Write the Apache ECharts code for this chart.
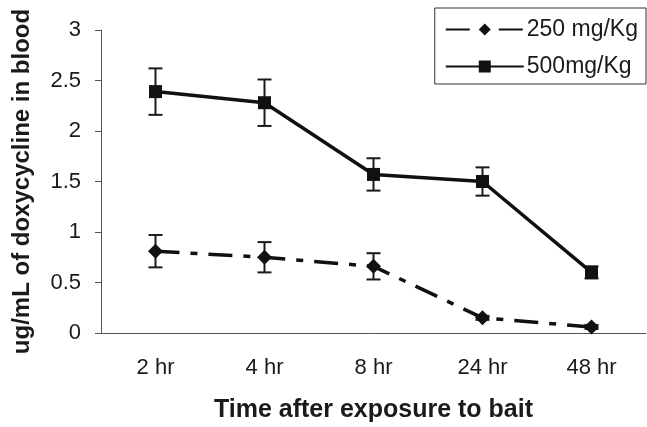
<!DOCTYPE html>
<html>
<head>
<meta charset="utf-8">
<script src="https://cdn.jsdelivr.net/npm/echarts@6/dist/echarts.min.js"></script>
<style>
  html, body { margin: 0; padding: 0; background: #fff; }
  #chart { width: 647px; height: 427px; }
</style>
</head>
<body>
<div id="chart"></div>
<script>
// time points and measured means / error bars
var categories = ['2 hr', '4 hr', '8 hr', '24 hr', '48 hr'];
var dose250 = [0.81, 0.75, 0.66, 0.15, 0.06];
var err250 = [0.16, 0.15, 0.13, 0.02, 0.02];
var dose500 = [2.39, 2.28, 1.57, 1.50, 0.60];
var err500 = [0.23, 0.23, 0.16, 0.14, 0.06];

var font = 'Liberation Sans, Arial, sans-serif';

function errData(vals, errs) {
    return vals.map(function(v, i) {
        return [i, v - errs[i], v + errs[i]];
    });
}

function renderErr(params, api) {
    var x = api.value(0);
    var lo = api.coord([x, api.value(1)]);
    var hi = api.coord([x, api.value(2)]);
    var w = 7;
    var st = { stroke: '#1a1a1a', lineWidth: 2 };
    return {
        type: 'group',
        children: [
            { type: 'line', shape: { x1: lo[0], y1: lo[1], x2: hi[0], y2: hi[1] }, style: st },
            { type: 'line', shape: { x1: lo[0] - w, y1: lo[1], x2: lo[0] + w, y2: lo[1] }, style: st },
            { type: 'line', shape: { x1: hi[0] - w, y1: hi[1], x2: hi[0] + w, y2: hi[1] }, style: st }
        ]
    };
}

var myChart = echarts.init(document.getElementById('chart'));
var option = {
    animation: false,
    textStyle: { fontFamily: font },
    grid: { left: 101, right: 1, top: 30, bottom: 94, outerBoundsMode: 'none', containLabel: false },
    legend: {
        orient: 'vertical',
        right: 1,
        top: 8,
        padding: [10, 8, 6, 10],
        itemGap: 14,
        itemWidth: 78,
        itemHeight: 15,
        borderColor: '#333',
        borderWidth: 1,
        textStyle: { fontSize: 23, color: '#1a1a1a', fontFamily: font, padding: [0, 0, 0, -2] },
        data: ['250 mg/Kg', '500mg/Kg']
    },
    xAxis: {
        type: 'category',
        data: categories,
        boundaryGap: true,
        name: 'Time after exposure to bait',
        nameLocation: 'middle',
        nameGap: 65,
        nameTextStyle: { fontSize: 25, fontWeight: 'bold', color: '#1a1a1a' },
        axisLine: { lineStyle: { color: '#555', width: 1 } },
        axisTick: { length: 6, lineStyle: { color: '#555' } },
        axisLabel: { fontSize: 22, color: '#1a1a1a', margin: 24 }
    },
    yAxis: {
        type: 'value',
        min: 0,
        max: 3,
        interval: 0.5,
        name: 'ug/mL of doxycycline in blood',
        nameLocation: 'middle',
        nameGap: 67,
        nameTextStyle: { fontSize: 24, fontWeight: 'bold', color: '#1a1a1a' },
        axisLine: { show: true, lineStyle: { color: '#555', width: 1 } },
        axisTick: { show: true, length: 6, lineStyle: { color: '#555' } },
        splitLine: { show: false },
        axisLabel: { fontSize: 22, color: '#1a1a1a', margin: 20 }
    },
    series: [{
        name: '250 mg/Kg',
        type: 'line',
        data: dose250,
        symbol: 'diamond',
        symbolSize: 15,
        itemStyle: { color: '#111' },
        lineStyle: { color: '#111', width: 3.5, type: [24, 11, 7, 11] },
        z: 3
    }, {
        name: '500mg/Kg',
        type: 'line',
        data: dose500,
        symbol: 'rect',
        symbolSize: 13,
        itemStyle: { color: '#111' },
        lineStyle: { color: '#111', width: 3.5 },
        z: 3
    }, {
        type: 'custom',
        renderItem: renderErr,
        data: errData(dose250, err250),
        z: 2
    }, {
        type: 'custom',
        renderItem: renderErr,
        data: errData(dose500, err500),
        z: 2
    }]
};
myChart.setOption(option);
</script>
</body>
</html>
